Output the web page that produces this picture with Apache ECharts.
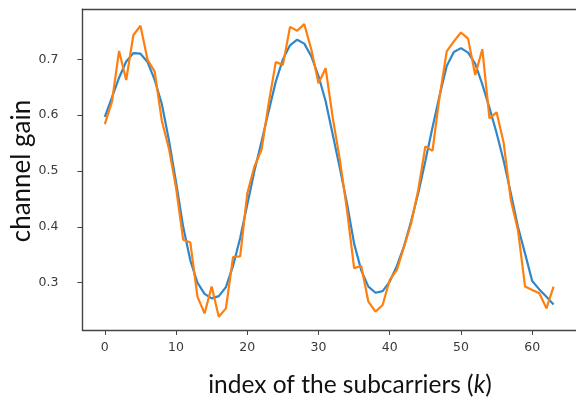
<!DOCTYPE html>
<html>
<head>
<meta charset="utf-8">
<script src="https://cdn.jsdelivr.net/npm/echarts@6/dist/echarts.min.js"></script>
<style>html,body{margin:0;padding:0;background:#fff}#c{width:576px;height:405px}</style>
</head>
<body>
<div id="c"></div>
<script>
const subcarrierIndex = Array.from({length: 64}, (_, i) => i);
const smoothGain = [0.597,0.632,0.667,0.696,0.711,0.710,0.695,0.663,0.620,0.555,
  0.480,0.400,0.340,0.300,0.280,0.272,0.276,0.292,0.330,0.380,
  0.440,0.500,0.553,0.607,0.660,0.700,0.725,0.735,0.728,0.705,
  0.670,0.625,0.565,0.505,0.442,0.370,0.322,0.293,0.282,0.285,
  0.302,0.330,0.365,0.410,0.460,0.518,0.578,0.635,0.688,0.713,
  0.720,0.712,0.692,0.655,0.613,0.568,0.518,0.460,0.400,0.352,
  0.303,0.288,0.275,0.261];
const noisyGain = [0.584,0.624,0.715,0.663,0.743,0.760,0.699,0.678,0.590,0.540,
  0.470,0.377,0.372,0.275,0.245,0.293,0.239,0.254,0.346,0.347,
  0.460,0.508,0.538,0.621,0.695,0.690,0.758,0.751,0.763,0.717,
  0.657,0.684,0.595,0.520,0.430,0.326,0.330,0.266,0.248,0.260,
  0.305,0.323,0.364,0.406,0.466,0.544,0.536,0.633,0.714,0.732,
  0.748,0.737,0.672,0.718,0.594,0.605,0.550,0.448,0.394,0.293,
  0.287,0.281,0.254,0.293];
const xTicks = [0,10,20,30,40,50,60];
const yTicks = [0.3,0.4,0.5,0.6,0.7];

const chart = echarts.init(document.getElementById('c'), null, {renderer: 'canvas'});
const axisCol = '#444';
const labelFont = {color: '#3a3a3a', fontSize: 12.5, fontFamily: 'DejaVu Sans'};
chart.setOption({
  animation: false,
  backgroundColor: '#fff',
  grid: {left: 82.4, top: 9.3, width: 496.2, height: 320.7, show: false},
  xAxis: [{
    type: 'value', min: -3.15, max: 66.15, position: 'bottom',
    axisLine: {show: true, onZero: false, lineStyle: {color: axisCol, width: 1.4}},
    splitLine: {show: false},
    axisTick: {show: true, length: 5, lineStyle: {color: axisCol}, customValues: xTicks},
    axisLabel: Object.assign({margin: 11, customValues: xTicks, formatter: v => String(v)}, labelFont)
  }, {
    type: 'value', min: -3.15, max: 66.15, position: 'top',
    axisLine: {show: true, onZero: false, lineStyle: {color: axisCol, width: 1.4}},
    splitLine: {show: false}, axisTick: {show: false}, axisLabel: {show: false}
  }],
  yAxis: {
    type: 'value', min: 0.2153, max: 0.7895,
    axisLine: {show: true, onZero: false, lineStyle: {color: axisCol, width: 1.4}},
    splitLine: {show: false},
    axisTick: {show: true, length: 5, lineStyle: {color: axisCol}, customValues: yTicks},
    axisLabel: Object.assign({margin: 24, customValues: yTicks, formatter: v => v.toFixed(1)}, labelFont)
  },
  series: [
    {type: 'line', data: subcarrierIndex.map((k, i) => [k, smoothGain[i]]), showSymbol: false,
     lineStyle: {color: '#2f86c8', width: 2.2}, z: 2},
    {type: 'line', data: subcarrierIndex.map((k, i) => [k, noisyGain[i]]), showSymbol: false,
     lineStyle: {color: '#ff7f0e', width: 2.2}, z: 3}
  ],
  graphic: [
    {type: 'text', x: 350, y: 385,
     style: {text: 'index of the subcarriers ({k|k})', fontSize: 24.5, fontFamily: 'Lato', fill: '#111',
       align: 'center', verticalAlign: 'middle',
       rich: {k: {fontSize: 24.5, fontFamily: 'Lato', fontStyle: 'italic', fill: '#111'}}}},
    {type: 'text', x: 22, y: 171, rotation: Math.PI / 2,
     style: {text: 'channel gain', fontSize: 26, fontFamily: 'Lato', fill: '#111',
       align: 'center', verticalAlign: 'middle'}}
  ]
});
</script>
</body>
</html>
